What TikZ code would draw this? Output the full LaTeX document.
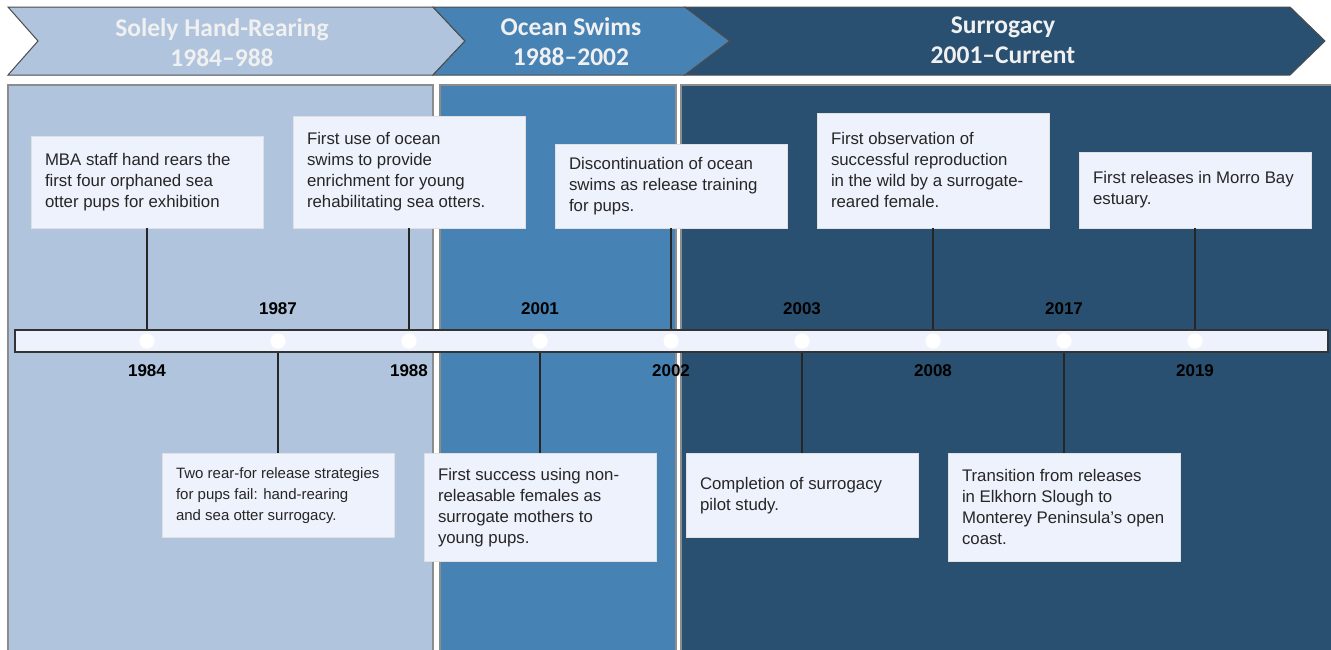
\documentclass[tikz,border=0pt]{standalone}
\usepackage{fontspec}
\setmainfont{Liberation Sans}
\newfontfamily\headfont{Carlito}
\usetikzlibrary{positioning}
\definecolor{paleblue}{RGB}{176,196,222}
\definecolor{midblue}{RGB}{70,130,180}
\definecolor{deepblue}{RGB}{41,80,112}
\definecolor{boxfill}{RGB}{238,242,253}
\tikzstyle{phase}=[draw=black!70,line width=1pt]
\tikzstyle{panel}=[draw=black!45,line width=1.5pt]
\tikzstyle{phasetitle}=[text=white!94!black,font=\headfont\bfseries\fontsize{25.5}{30}\selectfont,align=center,inner sep=0pt]
\tikzstyle{eventbox}=[fill=boxfill,draw=black!12,minimum width=232pt,inner sep=0pt]
\tikzstyle{eventtext}=[align=left,anchor=west,inner sep=0pt,text=black!85]
\tikzstyle{dot}=[circle,fill=white,minimum size=15pt,inner sep=0pt]
\tikzstyle{stem}=[draw,black!85,line width=1.1pt]
\tikzstyle{yearlabel}=[font=\bfseries\fontsize{17}{18}\selectfont]

\begin{document}
\begin{tikzpicture}[x=1pt,y=-1pt]
    \clip (0,0) rectangle (1331,649);
    \fill[white] (0,0) rectangle (1331,649);

    % Phase chevrons along the top
    \filldraw[phase,fill=paleblue] (8,7) -- (433,7) -- (465,41) -- (433,75) -- (8,75) -- (38,41) -- cycle;
    \filldraw[phase,fill=midblue] (433,7) -- (685,7) -- (730,41) -- (685,75) -- (433,75) -- (465,41) -- cycle;
    \filldraw[phase,fill=deepblue] (685,7) -- (1290,7) -- (1325,41) -- (1290,75) -- (685,75) -- (730,41) -- cycle;
    \node[phasetitle] (ph1) at (222,43) {Solely Hand-Rearing\\1984–988};
    \node[phasetitle] (ph2) at (571,42) {Ocean Swims\\1988–2002};
    \node[phasetitle] (ph3) at (1003,40) {Surrogacy\\2001–Current};

    % Background panels for each phase
    \filldraw[panel,fill=paleblue] (8,85) rectangle (433,660);
    \filldraw[panel,fill=midblue] (440,85) rectangle (676,660);
    \filldraw[panel,fill=deepblue] (681,85) rectangle (1340,660);

    % The time bar and its dots
    \node[draw=black!80,line width=1.5pt,fill=boxfill,minimum width=1313pt,minimum height=22pt,inner sep=0pt] (bar) at (671.5,341) {};
    \foreach \i in {0,...,8}
        \node[dot] (d\i) at ({147+131*\i},341) {};

    % Years above and below the bar
    \foreach \i/\yr in {1/1987, 3/2001, 5/2003, 7/2017}
        \node[yearlabel] (y\i) at ({147+131*\i},309) {\yr};
    \foreach \i/\yr in {0/1984, 2/1988, 4/2002, 6/2008, 8/2019}
        \node[yearlabel] (y\i) at ({147+131*\i},371) {\yr};

    % Events above the bar
    \foreach \i/\h/\fs/\txt in {0/92/16.8/{MBA staff hand rears the\\first four orphaned sea\\otter pups for exhibition},
                          2/112/16.8/{First use of ocean\\swims to provide\\enrichment for young\\rehabilitating sea otters.},
                          4/84/16.8/{Discontinuation of ocean\\swims as release training\\for pups.},
                          6/115/16.8/{First observation of\\successful reproduction\\in the wild by a surrogate-\\reared female.},
                          8/76/16.8/{First releases in Morro Bay\\estuary.}}
    {
        \node[eventbox,minimum height=\h pt,anchor=south] (e\i) at ({147+131*\i},228) {};
        \node[eventtext,font=\fontsize{\fs}{21}\selectfont] (t\i) at ([xshift=14pt]e\i.west) {\txt};
        \path[stem] (e\i.south) -- (e\i.south |- bar.north);
    }

    % Events below the bar
    \foreach \i/\h/\fs/\txt in {1/84/15/{Two rear-for release strategies\\for pups fail: hand-rearing\\and sea otter surrogacy.},
                          3/108/16.8/{First success using non-\\releasable females as\\surrogate mothers to\\young pups.},
                          5/84/16.8/{Completion of surrogacy\\pilot study.},
                          7/108/16.8/{Transition from releases\\in Elkhorn Slough to\\Monterey Peninsula’s open\\coast.}}
    {
        \node[eventbox,minimum height=\h pt,anchor=north] (e\i) at ({147+131*\i},453) {};
        \node[eventtext,font=\fontsize{\fs}{21}\selectfont] (t\i) at ([xshift=14pt]e\i.west) {\txt};
        \path[stem] (e\i.north) -- (e\i.north |- bar.south);
    }

    % Dots again so they sit on top of the bar
    \foreach \i in {0,...,8}
        \node[dot] at (d\i) {};
\end{tikzpicture}
\end{document}
